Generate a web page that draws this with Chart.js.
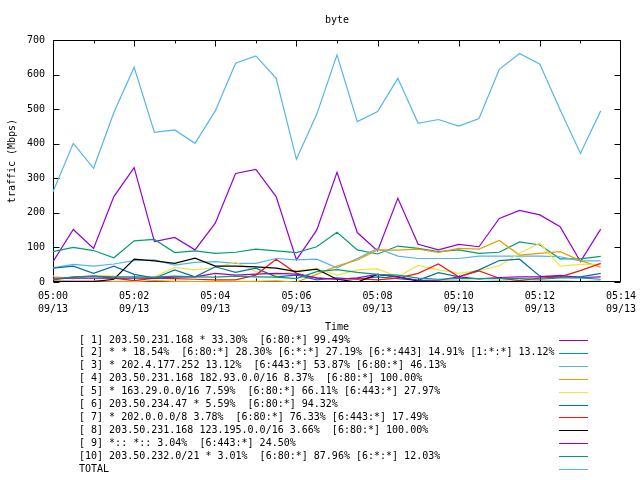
<!DOCTYPE html>
<html><head><meta charset="utf-8">
<script src="https://cdn.jsdelivr.net/npm/chart.js@4"></script>
<style>html,body{margin:0;padding:0;background:#fff}canvas{display:block}</style>
</head><body>
<canvas id="c" width="640" height="480"></canvas>
<script>
// ---- data ----
const times = [0,0.5,1,1.5,2,2.5,3,3.5,4,4.5,5,5.5,6,6.5,7,7.5,8,8.5,9,9.5,10,10.5,11,11.5,12,12.5,13,13.5];
const xTickLabels = ['05:00','05:02','05:04','05:06','05:08','05:10','05:12','05:14'];
const dateLabel = '09/13';
const yTickValues = [0,100,200,300,400,500,600,700];
const seriesLabels = [
  '[ 1] 203.50.231.168 * 33.30%  [6:80:*] 99.49%',
  '[ 2] * * 18.54%  [6:80:*] 28.30% [6:*:*] 27.19% [6:*:443] 14.91% [1:*:*] 13.12%',
  '[ 3] * 202.4.177.252 13.12%  [6:443:*] 53.87% [6:80:*] 46.13%',
  '[ 4] 203.50.231.168 182.93.0.0/16 8.37%  [6:80:*] 100.00%',
  '[ 5] * 163.29.0.0/16 7.59%  [6:80:*] 66.11% [6:443:*] 27.97%',
  '[ 6] 203.50.234.47 * 5.59%  [6:80:*] 94.32%',
  '[ 7] * 202.0.0.0/8 3.78%  [6:80:*] 76.33% [6:443:*] 17.49%',
  '[ 8] 203.50.231.168 123.195.0.0/16 3.66%  [6:80:*] 100.00%',
  '[ 9] *:: *:: 3.04%  [6:443:*] 24.50%',
  '[10] 203.50.232.0/21 * 3.01%  [6:80:*] 87.96% [6:*:*] 12.03%',
  'TOTAL'
];
const s1 = [59,152,97,247,331,117,129,93,170,314,326,247,64,150,317,143,90,242,109,93,109,102,184,207,194,160,59,153];
const s2 = [88,100,91,70,119,123,85,90,83,86,95,90,85,102,144,93,81,104,97,88,93,83,86,116,107,67,67,74];
const s3 = [41,51,46,52,62,64,49,57,59,54,54,68,64,66,41,68,97,75,68,68,68,75,75,75,75,73,61,61];
const s4 = [2,1,3,2,1,4,2,1,2,1,2,3,0,22,46,64,93,92,95,86,97,95,120,78,83,88,62,43];
const s5 = [18,8,18,18,2,15,42,35,42,57,30,20,33,38,20,35,38,15,48,35,25,33,47,83,112,46,51,51];
const s6 = [40,46,25,46,22,11,35,15,44,28,40,15,20,6,12,8,15,10,5,27,15,35,62,66,17,15,15,25];
const s7 = [6,14,17,11,4,11,10,8,6,6,20,66,25,11,8,10,6,11,25,52,15,32,11,4,11,15,33,54];
const s8 = [2,2,1,8,66,61,54,69,46,46,44,40,30,37,8,0,22,15,3,2,2,1,2,1,2,2,1,2];
const s9 = [11,11,11,11,11,11,14,15,25,20,23,25,23,12,8,12,22,15,5,5,15,9,13,15,15,19,13,15];
const s10 = [8,15,17,15,15,14,17,15,14,17,15,14,10,30,36,28,22,20,11,8,10,10,10,10,8,12,12,8];
const total = [261,401,329,490,621,433,440,401,495,633,654,589,355,485,657,464,493,589,459,470,451,473,615,661,630,498,372,495];

// ---- styles ----
const colors = ['#9400D3','#009E73','#56B4E9','#E69F00','#F0E442','#0072B2','#E51E10','#000000','#9400D3','#009E73','#56B4E9'];
const FONT = "'DejaVu Sans Mono', monospace";

const allSeries = [s1,s2,s3,s4,s5,s6,s7,s8,s9,s10,total];
const N = allSeries.length;
const datasets = allSeries.map((s, i) => ({
  label: seriesLabels[i],
  data: s.map((v, k) => ({x: times[k], y: v})),
  borderColor: colors[i],
  backgroundColor: colors[i],
  borderWidth: 1.2,
  pointRadius: 0,
  tension: 0,
  fill: false,
  order: N - i
}));

const gp = {
  id: 'gp',
  beforeDatasetsDraw(chart) {
    const {ctx, chartArea: a, scales: {x, y}} = chart;
    ctx.save();
    ctx.strokeStyle = '#000';
    ctx.lineWidth = 1;
    const L = Math.round(a.left) + 0.5, R = Math.round(a.right) - 0.5;
    const T = Math.round(a.top) + 0.5, B = Math.round(a.bottom) - 0.5;
    ctx.beginPath();
    ctx.rect(L, T, R - L, B - T);
    for (let m = 0; m <= 14; m++) {
      const px = Math.min(R, Math.round(x.getPixelForValue(m)) + 0.5);
      const len = (m % 2 === 0) ? 6 : 3;
      ctx.moveTo(px, B); ctx.lineTo(px, B - len);
      ctx.moveTo(px, T); ctx.lineTo(px, T + len);
    }
    for (const v of yTickValues) {
      const py = Math.round(y.getPixelForValue(v)) + 0.5;
      ctx.moveTo(L, py); ctx.lineTo(L + 6, py);
      ctx.moveTo(R, py); ctx.lineTo(R - 6, py);
    }
    ctx.stroke();
    ctx.restore();
  },
  afterDraw(chart) {
    const {ctx, chartArea: a} = chart;
    ctx.save();
    ctx.fillStyle = '#000';
    ctx.font = '10px ' + FONT;
    ctx.textBaseline = 'middle';
    ctx.textAlign = 'center';
    const cx = (a.left + a.right) / 2;
    ctx.fillText('byte', cx, 20);
    ctx.fillText('Time', cx, 327);
    ctx.save();
    ctx.translate(12, (a.top + a.bottom) / 2);
    ctx.rotate(-Math.PI / 2);
    ctx.fillText('traffic (Mbps)', 0, 0);
    ctx.restore();
    ctx.textAlign = 'left';
    chart.data.datasets.forEach((ds, i) => {
      const yy = 340 + 12.9 * i;
      ctx.fillStyle = '#000';
      ctx.fillText(ds.label, 79, yy);
      ctx.strokeStyle = ds.borderColor;
      ctx.lineWidth = 1;
      ctx.beginPath();
      const ly = Math.round(yy) + 0.5;
      ctx.moveTo(559, ly); ctx.lineTo(588, ly);
      ctx.stroke();
    });
    ctx.restore();
  }
};

new Chart(document.getElementById('c'), {
  type: 'line',
  data: {datasets},
  options: {
    responsive: false,
    devicePixelRatio: 1,
    animation: false,
    layout: {autoPadding: false, padding: {left: 0, top: 40, right: 19, bottom: 158}},
    plugins: {legend: {display: false}, title: {display: false}, tooltip: {enabled: false}},
    scales: {
      x: {
        type: 'linear', min: 0, max: 14,
        grid: {display: false, drawTicks: false},
        border: {display: false},
        ticks: {
          stepSize: 2, autoSkip: false, maxRotation: 0, padding: 8,
          color: '#000', font: {family: FONT, size: 10, lineHeight: 1.3},
          callback: (v) => [xTickLabels[Math.round(v / 2)], dateLabel]
        },
        afterFit: (s) => { s.height = 40; s.paddingLeft = 0; s.paddingRight = 0; }
      },
      y: {
        min: 0, max: 700,
        grid: {display: false, drawTicks: false},
        border: {display: false},
        ticks: {stepSize: 100, padding: 8, color: '#000', font: {family: FONT, size: 10}},
        afterFit: (s) => { s.width = 53; s.paddingTop = 0; s.paddingBottom = 0; }
      }
    }
  },
  plugins: [gp]
});
</script>
</body></html>
